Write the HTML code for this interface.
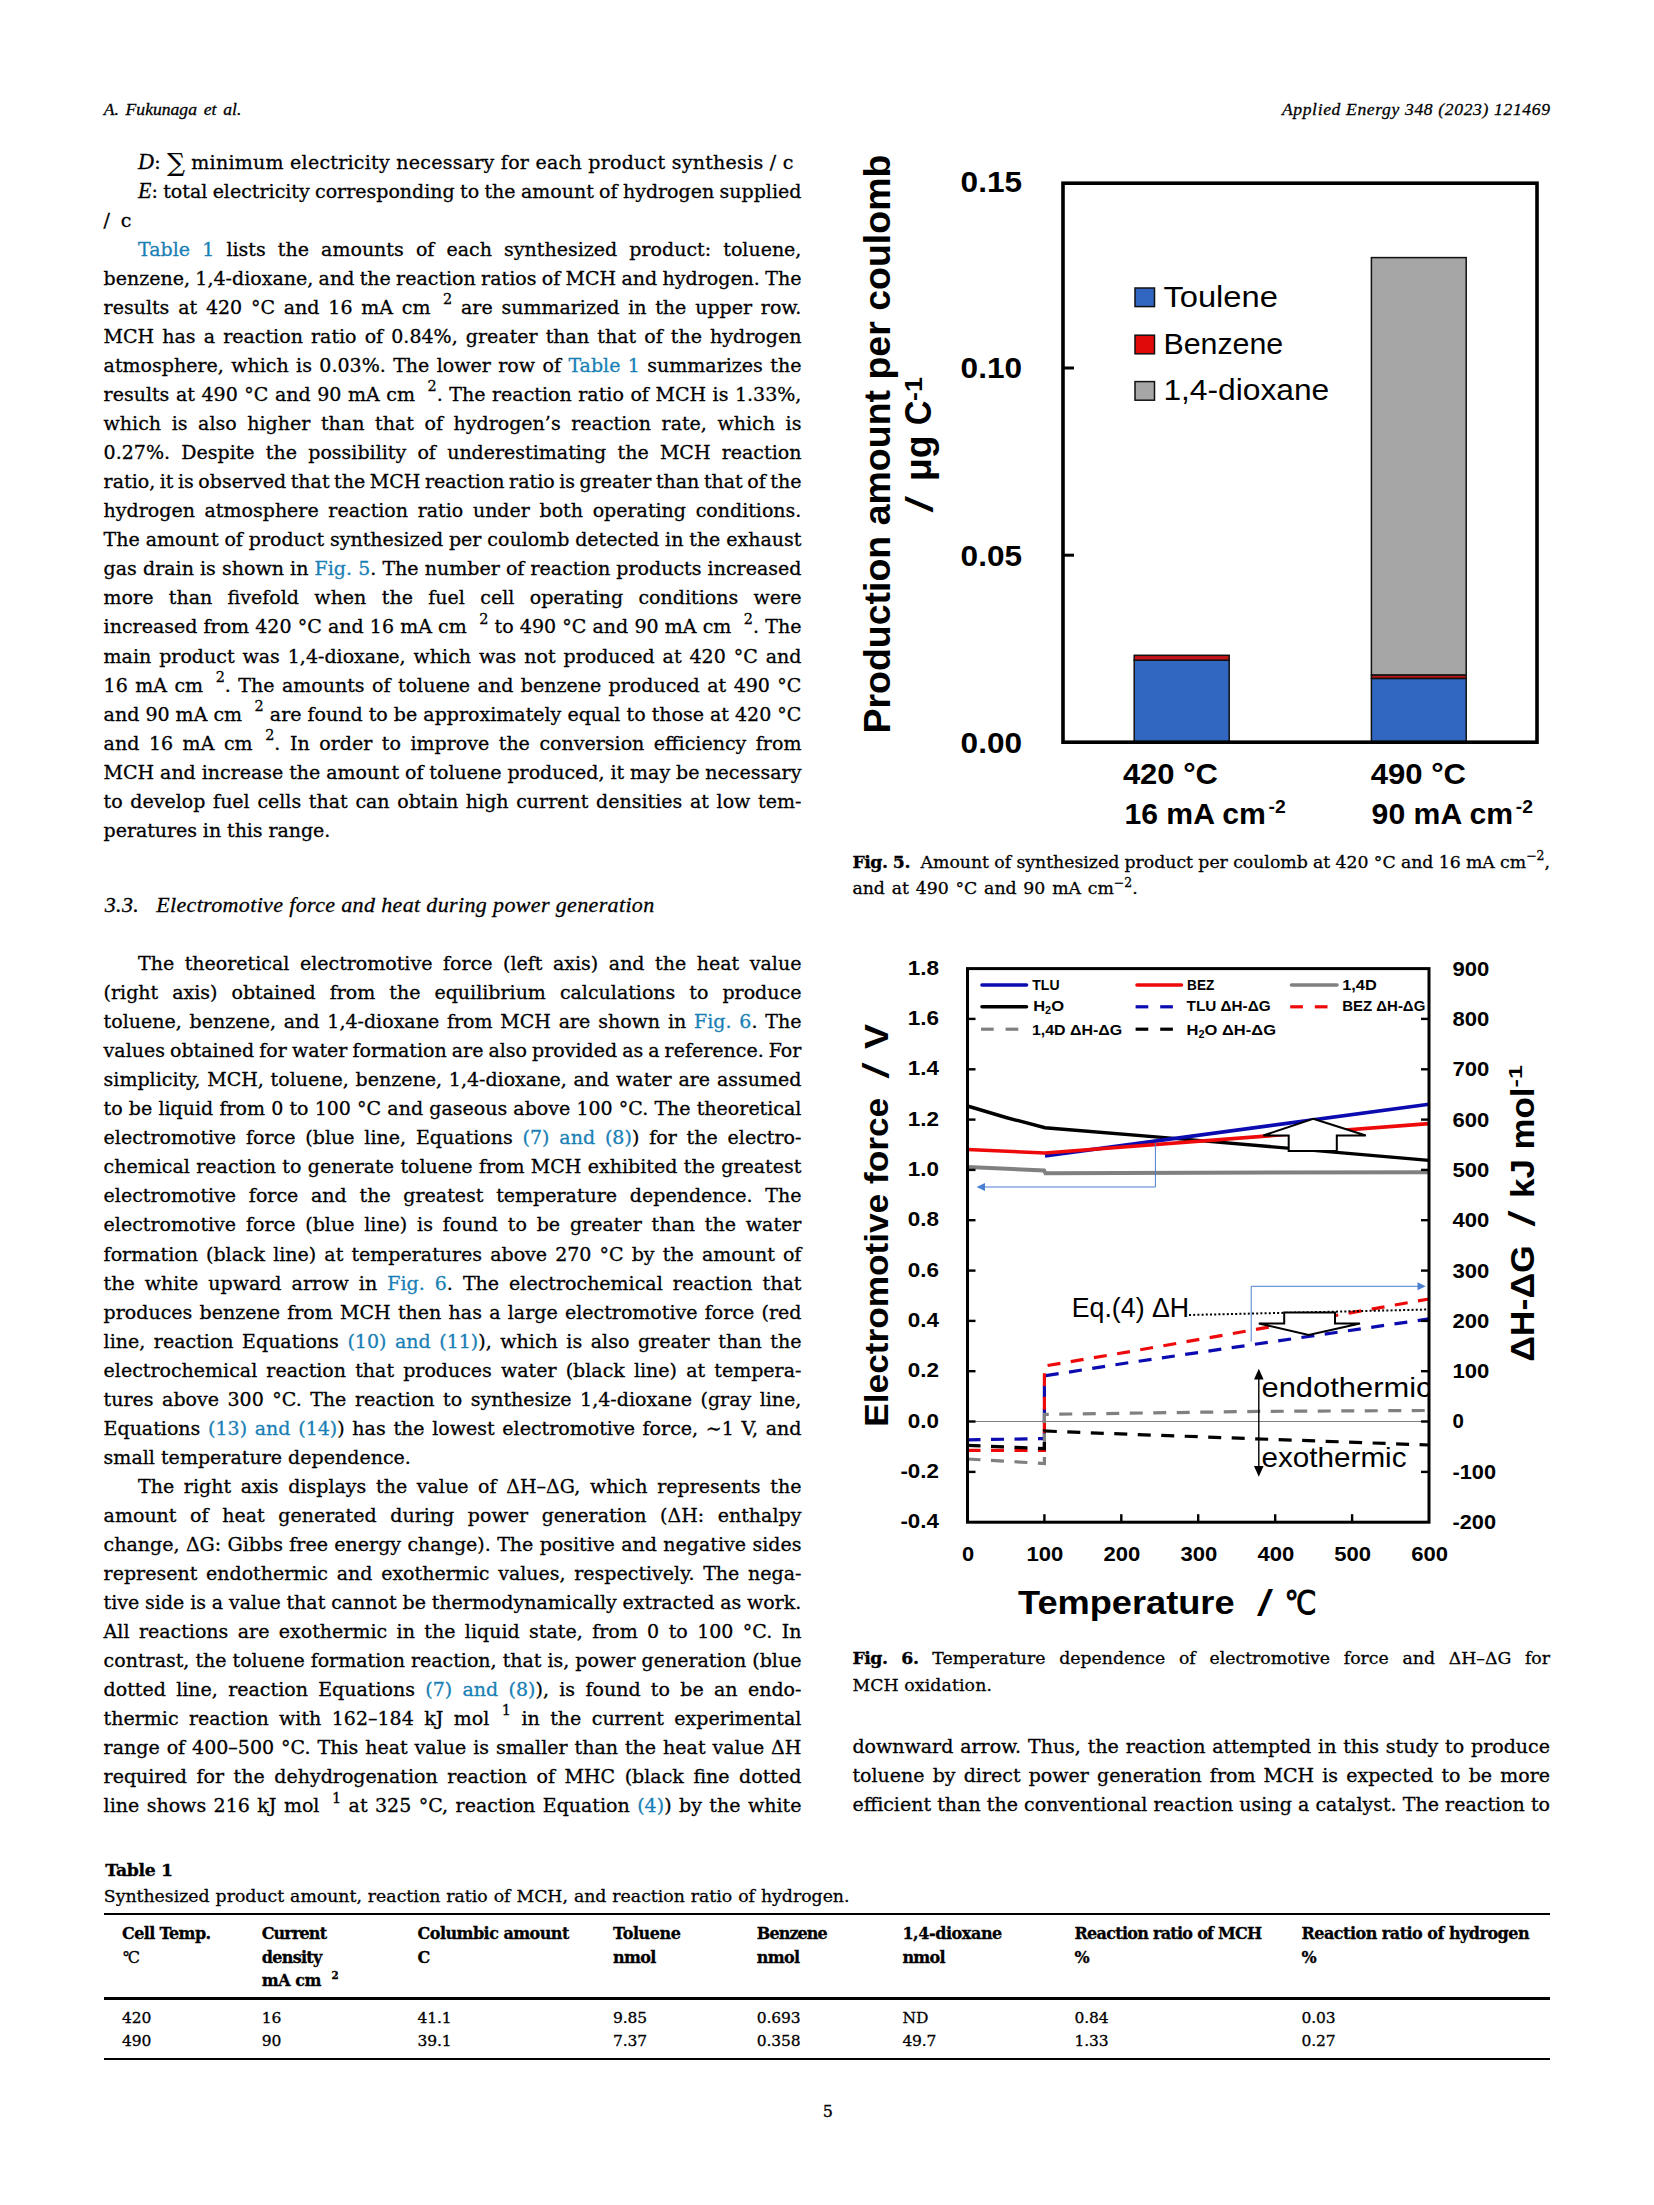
<!DOCTYPE html>
<html lang="en"><head><meta charset="utf-8"><title>Applied Energy 348 (2023) 121469</title>
<style>
html,body{margin:0;padding:0;background:#fff}
body{width:1654px;height:2205px;position:relative;overflow:hidden;color:#000;font-family:"DejaVu Serif","Liberation Serif",serif}
.l{position:absolute;white-space:pre;line-height:1;margin:0;font-kerning:normal;-webkit-text-stroke:.3px currentColor}
.l a{color:#1a7fb5;text-decoration:none}
.i,.l i{font-style:italic;font-family:"Liberation Serif","DejaVu Serif",serif}
.l i{font-size:1.16em;line-height:0}
.b{font-weight:bold}
.g{display:inline-block;width:.66em}
.s{display:inline-block;width:17px}
.sg{font-size:1.3em;line-height:0;position:relative;top:.08em}
sup{font-size:.76em;line-height:0;vertical-align:baseline;position:relative;top:-.68em}
sup.c{font-size:.72em;top:-.62em}
sup.t{font-size:.64em;top:-.7em}
.l b{letter-spacing:-.45px}
.r{position:absolute;left:104px;width:1446px;background:#000}
</style></head>
<body>
<svg width="1654" height="2205" viewBox="0 0 1654 2205" style="position:absolute;left:0;top:0" font-family="'Liberation Sans','DejaVu Sans',sans-serif">
<rect x="1134.2" y="660.2" width="95.0" height="82.0" fill="#3167c0" stroke="#111" stroke-width="1.5"/>
<rect x="1134.2" y="655.3" width="95.0" height="4.9" fill="#c4161a" stroke="#111" stroke-width="1.5"/>
<rect x="1371.4" y="678.4" width="94.8" height="63.8" fill="#3167c0" stroke="#111" stroke-width="1.5"/>
<rect x="1371.4" y="674.9" width="94.8" height="3.5" fill="#b8161a" stroke="#111" stroke-width="1.5"/>
<rect x="1371.4" y="257.6" width="94.8" height="417.3" fill="#a6a6a6" stroke="#111" stroke-width="1.5"/>
<rect x="1063.0" y="183.2" width="474.0" height="559.0" fill="none" stroke="#000" stroke-width="3.6"/>
<line x1="1063.0" y1="368.0" x2="1074.0" y2="368.0" stroke="#000" stroke-width="3"/>
<line x1="1063.0" y1="555.2" x2="1074.0" y2="555.2" stroke="#000" stroke-width="3"/>
<text x="960.6" y="192.4" font-size="30" font-weight="bold" textLength="61.4" lengthAdjust="spacingAndGlyphs" text-anchor="start" fill="#000" >0.15</text>
<text x="960.6" y="378.1" font-size="30" font-weight="bold" textLength="61.4" lengthAdjust="spacingAndGlyphs" text-anchor="start" fill="#000" >0.10</text>
<text x="960.6" y="565.6" font-size="30" font-weight="bold" textLength="61.4" lengthAdjust="spacingAndGlyphs" text-anchor="start" fill="#000" >0.05</text>
<text x="960.6" y="752.5" font-size="30" font-weight="bold" textLength="61.4" lengthAdjust="spacingAndGlyphs" text-anchor="start" fill="#000" >0.00</text>
<rect x="1135.0" y="288.0" width="19.5" height="18.6" fill="#3167c0" stroke="#111" stroke-width="1.5"/>
<text x="1163.4" y="306.7" font-size="30" textLength="114.5" lengthAdjust="spacingAndGlyphs" text-anchor="start" fill="#000" >Toulene</text>
<rect x="1135.0" y="335.2" width="19.5" height="18.6" fill="#e10a0a" stroke="#111" stroke-width="1.5"/>
<text x="1163.4" y="353.9" font-size="30" textLength="119.8" lengthAdjust="spacingAndGlyphs" text-anchor="start" fill="#000" >Benzene</text>
<rect x="1135.0" y="381.6" width="19.5" height="18.6" fill="#a6a6a6" stroke="#111" stroke-width="1.5"/>
<text x="1163.4" y="400.3" font-size="30" textLength="165.8" lengthAdjust="spacingAndGlyphs" text-anchor="start" fill="#000" >1,4-dioxane</text>
<text x="1122.9" y="784.0" font-size="30" font-weight="bold" textLength="95.0" lengthAdjust="spacingAndGlyphs" text-anchor="start" fill="#000" >420 °C</text>
<text x="1124.4" y="824.0" font-size="30" font-weight="bold" textLength="141.5" lengthAdjust="spacingAndGlyphs" text-anchor="start" fill="#000" >16 mA cm</text>
<text x="1268.6" y="813.0" font-size="19" font-weight="bold" textLength="17.2" lengthAdjust="spacingAndGlyphs" text-anchor="start" fill="#000" >-2</text>
<text x="1370.7" y="784.0" font-size="30" font-weight="bold" textLength="95.3" lengthAdjust="spacingAndGlyphs" text-anchor="start" fill="#000" >490 °C</text>
<text x="1371.6" y="824.0" font-size="30" font-weight="bold" textLength="141.5" lengthAdjust="spacingAndGlyphs" text-anchor="start" fill="#000" >90 mA cm</text>
<text x="1515.8" y="813.0" font-size="19" font-weight="bold" textLength="17.2" lengthAdjust="spacingAndGlyphs" text-anchor="start" fill="#000" >-2</text>
<text transform="translate(890.0,733.6) rotate(-90)" font-size="36" font-weight="bold" textLength="579.0" lengthAdjust="spacingAndGlyphs" >Production amount per coulomb</text>
<text transform="translate(932.5,512.6) rotate(-90)" font-size="38" textLength="16.5" lengthAdjust="spacingAndGlyphs" >/</text>
<text transform="translate(931.3,481.0) rotate(-90)" font-size="36" font-weight="bold" textLength="45.5" lengthAdjust="spacingAndGlyphs" >μg</text>
<text transform="translate(931.3,425.2) rotate(-90)" font-size="36" font-weight="bold" textLength="24.6" lengthAdjust="spacingAndGlyphs" >C</text>
<text transform="translate(921.6,401.0) rotate(-90)" font-size="24" font-weight="bold" textLength="23.8" lengthAdjust="spacingAndGlyphs" >-1</text>
<line x1="967.5" y1="1421.5" x2="1421" y2="1421.5" stroke="#7f7f7f" stroke-width="1.2"/>
<polyline points="967.5,1439.8 1044.4,1438.6 1044.4,1375.9 1130.0,1362.5 1429.0,1318.9" fill="none" stroke="#0b0bb0" stroke-width="3.2" stroke-dasharray="13 10.5" />
<polyline points="967.5,1450.4 1044.4,1450.4 1044.4,1366.0 1130.0,1351.6 1429.0,1299.0" fill="none" stroke="#ee0a0a" stroke-width="3.2" stroke-dasharray="13 10.5" />
<polyline points="967.5,1459.0 1044.4,1463.5 1044.4,1414.4 1258.0,1411.4 1429.0,1410.5" fill="none" stroke="#808080" stroke-width="3.2" stroke-dasharray="13 10.5" />
<polyline points="967.5,1445.3 1044.4,1448.6 1044.4,1431.0 1130.0,1434.3 1429.0,1445.0" fill="none" stroke="#000" stroke-width="3.2" stroke-dasharray="13 10.5" />
<polyline points="1189.0,1315.0 1429.0,1309.5" fill="none" stroke="#000" stroke-width="2.0" stroke-dasharray="2 2.2" />
<polyline points="967.5,1167.0 1044.0,1170.4 1045.5,1173.2 1429.0,1172.2" fill="none" stroke="#808080" stroke-width="4.0" />
<polyline points="967.5,1106.0 1006.0,1117.5 1045.0,1127.7 1177.0,1138.6 1429.0,1160.4" fill="none" stroke="#000" stroke-width="3.4" />
<polyline points="1045.0,1155.9 1429.0,1104.2" fill="none" stroke="#0b0bb0" stroke-width="3.6" />
<polyline points="967.5,1149.5 1045.0,1153.0 1429.0,1123.6" fill="none" stroke="#ee0a0a" stroke-width="3.6" />
<polygon points="1313.2,1118.7 1365.8,1135.5 1336.8,1135.5 1336.8,1151 1288.7,1151 1288.7,1135.5 1263.3,1135.5" fill="#fff" stroke="#000" stroke-width="2"/>
<polygon points="1284.2,1312.6 1335,1312.6 1335,1323.5 1360,1323.5 1308.7,1334.9 1258.8,1323.5 1284.2,1323.5" fill="#fff" stroke="#000" stroke-width="2"/>
<polyline points="1155.4,1143 1155.4,1187 984,1187" fill="none" stroke="#4a7fd0" stroke-width="1"/>
<polygon points="976.6,1187 985,1183 985,1191" fill="#4a7fd0"/>
<polyline points="1251.2,1341.6 1251.2,1286.3 1418,1286.3" fill="none" stroke="#4a7fd0" stroke-width="1"/>
<polygon points="1425.7,1286.3 1417.5,1282.3 1417.5,1290.3" fill="#4a7fd0"/>
<line x1="1258.8" y1="1376" x2="1258.8" y2="1469" stroke="#000" stroke-width="1.4"/>
<polygon points="1258.8,1368.8 1254,1379.5 1263.6,1379.5" fill="#000"/>
<polygon points="1258.8,1476.7 1254,1466 1263.6,1466" fill="#000"/>
<text x="1261.5" y="1396.9" font-size="28.5" textLength="170.0" lengthAdjust="spacingAndGlyphs" text-anchor="start" fill="#000" >endothermic</text>
<rect x="1429" y="1372" width="18" height="30" fill="#fff"/>
<text x="1261.5" y="1466.8" font-size="28.5" textLength="145.0" lengthAdjust="spacingAndGlyphs" text-anchor="start" fill="#000" >exothermic</text>
<text x="1071.7" y="1317.0" font-size="27.5" textLength="117.5" lengthAdjust="spacingAndGlyphs" text-anchor="start" fill="#000" >Eq.(4) ΔH</text>
<rect x="967.5" y="968.6" width="461.5" height="553.6" fill="none" stroke="#000" stroke-width="3"/>
<line x1="967.5" y1="1018.9" x2="975.5" y2="1018.9" stroke="#000" stroke-width="2.4"/>
<line x1="1429.0" y1="1018.9" x2="1421.0" y2="1018.9" stroke="#000" stroke-width="2.4"/>
<line x1="967.5" y1="1069.3" x2="975.5" y2="1069.3" stroke="#000" stroke-width="2.4"/>
<line x1="1429.0" y1="1069.3" x2="1421.0" y2="1069.3" stroke="#000" stroke-width="2.4"/>
<line x1="967.5" y1="1119.6" x2="975.5" y2="1119.6" stroke="#000" stroke-width="2.4"/>
<line x1="1429.0" y1="1119.6" x2="1421.0" y2="1119.6" stroke="#000" stroke-width="2.4"/>
<line x1="967.5" y1="1169.9" x2="975.5" y2="1169.9" stroke="#000" stroke-width="2.4"/>
<line x1="1429.0" y1="1169.9" x2="1421.0" y2="1169.9" stroke="#000" stroke-width="2.4"/>
<line x1="967.5" y1="1220.2" x2="975.5" y2="1220.2" stroke="#000" stroke-width="2.4"/>
<line x1="1429.0" y1="1220.2" x2="1421.0" y2="1220.2" stroke="#000" stroke-width="2.4"/>
<line x1="967.5" y1="1270.6" x2="975.5" y2="1270.6" stroke="#000" stroke-width="2.4"/>
<line x1="1429.0" y1="1270.6" x2="1421.0" y2="1270.6" stroke="#000" stroke-width="2.4"/>
<line x1="967.5" y1="1320.9" x2="975.5" y2="1320.9" stroke="#000" stroke-width="2.4"/>
<line x1="1429.0" y1="1320.9" x2="1421.0" y2="1320.9" stroke="#000" stroke-width="2.4"/>
<line x1="967.5" y1="1371.2" x2="975.5" y2="1371.2" stroke="#000" stroke-width="2.4"/>
<line x1="1429.0" y1="1371.2" x2="1421.0" y2="1371.2" stroke="#000" stroke-width="2.4"/>
<line x1="967.5" y1="1421.5" x2="975.5" y2="1421.5" stroke="#000" stroke-width="2.4"/>
<line x1="1429.0" y1="1421.5" x2="1421.0" y2="1421.5" stroke="#000" stroke-width="2.4"/>
<line x1="967.5" y1="1471.9" x2="975.5" y2="1471.9" stroke="#000" stroke-width="2.4"/>
<line x1="1429.0" y1="1471.9" x2="1421.0" y2="1471.9" stroke="#000" stroke-width="2.4"/>
<line x1="1044.4" y1="1522.2" x2="1044.4" y2="1514.2" stroke="#000" stroke-width="2.4"/>
<line x1="1121.3" y1="1522.2" x2="1121.3" y2="1514.2" stroke="#000" stroke-width="2.4"/>
<line x1="1198.2" y1="1522.2" x2="1198.2" y2="1514.2" stroke="#000" stroke-width="2.4"/>
<line x1="1275.2" y1="1522.2" x2="1275.2" y2="1514.2" stroke="#000" stroke-width="2.4"/>
<line x1="1352.1" y1="1522.2" x2="1352.1" y2="1514.2" stroke="#000" stroke-width="2.4"/>
<text x="907.7" y="974.7" font-size="19.5" font-weight="bold" textLength="31.2" lengthAdjust="spacingAndGlyphs" text-anchor="start" fill="#000" >1.8</text>
<text x="907.7" y="1025.0" font-size="19.5" font-weight="bold" textLength="31.2" lengthAdjust="spacingAndGlyphs" text-anchor="start" fill="#000" >1.6</text>
<text x="907.7" y="1075.4" font-size="19.5" font-weight="bold" textLength="31.2" lengthAdjust="spacingAndGlyphs" text-anchor="start" fill="#000" >1.4</text>
<text x="907.7" y="1125.7" font-size="19.5" font-weight="bold" textLength="31.2" lengthAdjust="spacingAndGlyphs" text-anchor="start" fill="#000" >1.2</text>
<text x="907.7" y="1176.0" font-size="19.5" font-weight="bold" textLength="31.2" lengthAdjust="spacingAndGlyphs" text-anchor="start" fill="#000" >1.0</text>
<text x="907.7" y="1226.3" font-size="19.5" font-weight="bold" textLength="31.2" lengthAdjust="spacingAndGlyphs" text-anchor="start" fill="#000" >0.8</text>
<text x="907.7" y="1276.7" font-size="19.5" font-weight="bold" textLength="31.2" lengthAdjust="spacingAndGlyphs" text-anchor="start" fill="#000" >0.6</text>
<text x="907.7" y="1327.0" font-size="19.5" font-weight="bold" textLength="31.2" lengthAdjust="spacingAndGlyphs" text-anchor="start" fill="#000" >0.4</text>
<text x="907.7" y="1377.3" font-size="19.5" font-weight="bold" textLength="31.2" lengthAdjust="spacingAndGlyphs" text-anchor="start" fill="#000" >0.2</text>
<text x="907.7" y="1427.6" font-size="19.5" font-weight="bold" textLength="31.2" lengthAdjust="spacingAndGlyphs" text-anchor="start" fill="#000" >0.0</text>
<text x="900.4" y="1478.0" font-size="19.5" font-weight="bold" textLength="38.5" lengthAdjust="spacingAndGlyphs" text-anchor="start" fill="#000" >-0.2</text>
<text x="900.4" y="1528.3" font-size="19.5" font-weight="bold" textLength="38.5" lengthAdjust="spacingAndGlyphs" text-anchor="start" fill="#000" >-0.4</text>
<text x="1452.5" y="975.5" font-size="19.5" font-weight="bold" textLength="36.8" lengthAdjust="spacingAndGlyphs" text-anchor="start" fill="#000" >900</text>
<text x="1452.5" y="1025.8" font-size="19.5" font-weight="bold" textLength="36.8" lengthAdjust="spacingAndGlyphs" text-anchor="start" fill="#000" >800</text>
<text x="1452.5" y="1076.2" font-size="19.5" font-weight="bold" textLength="36.8" lengthAdjust="spacingAndGlyphs" text-anchor="start" fill="#000" >700</text>
<text x="1452.5" y="1126.5" font-size="19.5" font-weight="bold" textLength="36.8" lengthAdjust="spacingAndGlyphs" text-anchor="start" fill="#000" >600</text>
<text x="1452.5" y="1176.8" font-size="19.5" font-weight="bold" textLength="36.8" lengthAdjust="spacingAndGlyphs" text-anchor="start" fill="#000" >500</text>
<text x="1452.5" y="1227.1" font-size="19.5" font-weight="bold" textLength="36.8" lengthAdjust="spacingAndGlyphs" text-anchor="start" fill="#000" >400</text>
<text x="1452.5" y="1277.5" font-size="19.5" font-weight="bold" textLength="36.8" lengthAdjust="spacingAndGlyphs" text-anchor="start" fill="#000" >300</text>
<text x="1452.5" y="1327.8" font-size="19.5" font-weight="bold" textLength="36.8" lengthAdjust="spacingAndGlyphs" text-anchor="start" fill="#000" >200</text>
<text x="1452.5" y="1378.1" font-size="19.5" font-weight="bold" textLength="36.8" lengthAdjust="spacingAndGlyphs" text-anchor="start" fill="#000" >100</text>
<text x="1452.5" y="1428.4" font-size="19.5" font-weight="bold" textLength="11.4" lengthAdjust="spacingAndGlyphs" text-anchor="start" fill="#000" >0</text>
<text x="1452.5" y="1478.8" font-size="19.5" font-weight="bold" textLength="43.5" lengthAdjust="spacingAndGlyphs" text-anchor="start" fill="#000" >-100</text>
<text x="1452.5" y="1529.1" font-size="19.5" font-weight="bold" textLength="43.5" lengthAdjust="spacingAndGlyphs" text-anchor="start" fill="#000" >-200</text>
<text x="968.1" y="1561.0" font-size="19.5" font-weight="bold" textLength="12.2" lengthAdjust="spacingAndGlyphs" text-anchor="middle" fill="#000" >0</text>
<text x="1045.0" y="1561.0" font-size="19.5" font-weight="bold" textLength="36.8" lengthAdjust="spacingAndGlyphs" text-anchor="middle" fill="#000" >100</text>
<text x="1121.9" y="1561.0" font-size="19.5" font-weight="bold" textLength="36.8" lengthAdjust="spacingAndGlyphs" text-anchor="middle" fill="#000" >200</text>
<text x="1198.8" y="1561.0" font-size="19.5" font-weight="bold" textLength="36.8" lengthAdjust="spacingAndGlyphs" text-anchor="middle" fill="#000" >300</text>
<text x="1275.8" y="1561.0" font-size="19.5" font-weight="bold" textLength="36.8" lengthAdjust="spacingAndGlyphs" text-anchor="middle" fill="#000" >400</text>
<text x="1352.7" y="1561.0" font-size="19.5" font-weight="bold" textLength="36.8" lengthAdjust="spacingAndGlyphs" text-anchor="middle" fill="#000" >500</text>
<text x="1429.6" y="1561.0" font-size="19.5" font-weight="bold" textLength="36.8" lengthAdjust="spacingAndGlyphs" text-anchor="middle" fill="#000" >600</text>
<text x="1018.0" y="1614.0" font-size="32.5" font-weight="bold" textLength="216.6" lengthAdjust="spacingAndGlyphs" text-anchor="start" fill="#000" >Temperature</text>
<text x="1257.0" y="1615.5" font-size="36" textLength="16.0" lengthAdjust="spacingAndGlyphs" text-anchor="start" fill="#000" >/</text>
<text x="1284.5" y="1614.0" font-size="32.5" textLength="32.0" lengthAdjust="spacingAndGlyphs" text-anchor="start" fill="#000" font-family="DejaVu Sans,sans-serif" stroke="#000" stroke-width="1">℃</text>
<text transform="translate(888.0,1426.7) rotate(-90)" font-size="34" font-weight="bold" textLength="328.8" lengthAdjust="spacingAndGlyphs" >Electromotive force</text>
<text transform="translate(889.0,1078.5) rotate(-90)" font-size="37" textLength="16.0" lengthAdjust="spacingAndGlyphs" >/</text>
<text transform="translate(888.0,1049.0) rotate(-90)" font-size="34" font-weight="bold" textLength="25.0" lengthAdjust="spacingAndGlyphs" >V</text>
<text transform="translate(1533.8,1361.8) rotate(-90)" font-size="34" font-weight="bold" textLength="116.5" lengthAdjust="spacingAndGlyphs" >ΔH-ΔG</text>
<text transform="translate(1534.8,1226.5) rotate(-90)" font-size="37" textLength="16.0" lengthAdjust="spacingAndGlyphs" >/</text>
<text transform="translate(1533.8,1198.0) rotate(-90)" font-size="34" font-weight="bold" textLength="110.5" lengthAdjust="spacingAndGlyphs" >kJ mol</text>
<text transform="translate(1521.5,1087.5) rotate(-90)" font-size="17.5" font-weight="bold" textLength="22.5" lengthAdjust="spacingAndGlyphs" >-1</text>
<line x1="982" y1="985.0" x2="1026.5" y2="985.0" stroke="#0b0bb0" stroke-width="3.6" stroke-linecap="round"/>
<text x="1032.3" y="989.9" font-size="15.2" font-weight="bold" textLength="27.2" lengthAdjust="spacingAndGlyphs" text-anchor="start" fill="#000" >TLU</text>
<line x1="982" y1="1006.8" x2="1026.5" y2="1006.8" stroke="#000" stroke-width="3.6" stroke-linecap="round"/>
<text x="1033.2" y="1010.6" font-size="15.2" font-weight="bold" textLength="30.8" lengthAdjust="spacingAndGlyphs" text-anchor="start" fill="#000" >H<tspan font-size="10" dy="3.5">2</tspan><tspan dy="-3.5">O</tspan></text>
<line x1="981" y1="1029.2" x2="993.7" y2="1029.2" stroke="#808080" stroke-width="3.2"/>
<line x1="1005.6" y1="1029.2" x2="1018.3" y2="1029.2" stroke="#808080" stroke-width="3.2"/>
<text x="1031.9" y="1034.7" font-size="15.2" font-weight="bold" textLength="90.2" lengthAdjust="spacingAndGlyphs" text-anchor="start" fill="#000" >1,4D ΔH-ΔG</text>
<line x1="1137" y1="985.0" x2="1181.5" y2="985.0" stroke="#ee0a0a" stroke-width="3.6" stroke-linecap="round"/>
<text x="1187.1" y="989.9" font-size="15.2" font-weight="bold" textLength="27.2" lengthAdjust="spacingAndGlyphs" text-anchor="start" fill="#000" >BEZ</text>
<line x1="1135.6" y1="1006.8" x2="1148.3" y2="1006.8" stroke="#0b0bb0" stroke-width="3.2"/>
<line x1="1160.1999999999998" y1="1006.8" x2="1172.8999999999999" y2="1006.8" stroke="#0b0bb0" stroke-width="3.2"/>
<text x="1186.6" y="1010.6" font-size="15.2" font-weight="bold" textLength="84.0" lengthAdjust="spacingAndGlyphs" text-anchor="start" fill="#000" >TLU ΔH-ΔG</text>
<line x1="1135.6" y1="1029.2" x2="1148.3" y2="1029.2" stroke="#000" stroke-width="3.2"/>
<line x1="1160.1999999999998" y1="1029.2" x2="1172.8999999999999" y2="1029.2" stroke="#000" stroke-width="3.2"/>
<text x="1186.6" y="1034.7" font-size="15.2" font-weight="bold" textLength="89.4" lengthAdjust="spacingAndGlyphs" text-anchor="start" fill="#000" >H<tspan font-size="10" dy="3.5">2</tspan><tspan dy="-3.5">O</tspan> ΔH-ΔG</text>
<line x1="1291.5" y1="985.0" x2="1337" y2="985.0" stroke="#808080" stroke-width="3.6" stroke-linecap="round"/>
<text x="1342.2" y="989.9" font-size="15.2" font-weight="bold" textLength="34.5" lengthAdjust="spacingAndGlyphs" text-anchor="start" fill="#000" >1,4D</text>
<line x1="1290.2" y1="1006.8" x2="1302.9" y2="1006.8" stroke="#ee0a0a" stroke-width="3.2"/>
<line x1="1314.8" y1="1006.8" x2="1327.5" y2="1006.8" stroke="#ee0a0a" stroke-width="3.2"/>
<text x="1342.2" y="1010.6" font-size="15.2" font-weight="bold" textLength="83.1" lengthAdjust="spacingAndGlyphs" text-anchor="start" fill="#000" >BEZ ΔH-ΔG</text>
</svg>
<div class="l i" style="left:103.70px;top:101.00px;font-size:17.6px;word-spacing:2.377px">A. Fukunaga et al.</div>
<div class="l i" style="left:1281.90px;top:101.00px;font-size:17.6px;letter-spacing:0.630px">Applied Energy 348 (2023) 121469</div>
<div class="l" style="left:138.00px;top:152.65px;font-size:19.0px;letter-spacing:0.255px"><i>D</i>: <span class="sg">∑</span> minimum electricity necessary for each product synthesis / c</div>
<div class="l" style="left:138.00px;top:181.70px;font-size:19.0px;word-spacing:-0.719px"><i>E</i>: total electricity corresponding to the amount of hydrogen supplied</div>
<div class="l" style="left:103.60px;top:210.75px;font-size:19.0px;word-spacing:4.806px">/ c</div>
<div class="l" style="left:138.00px;top:239.80px;font-size:19.0px;word-spacing:6.109px"><a>Table 1</a> lists the amounts of each synthesized product: toluene,</div>
<div class="l" style="left:103.60px;top:268.85px;font-size:19.0px;word-spacing:-0.698px">benzene, 1,4-dioxane, and the reaction ratios of MCH and hydrogen. The</div>
<div class="l" style="left:103.60px;top:297.90px;font-size:19.0px;word-spacing:2.749px">results at 420 °C and 16 mA cm<span class="g"></span><sup>2</sup> are summarized in the upper row.</div>
<div class="l" style="left:103.60px;top:326.95px;font-size:19.0px;word-spacing:2.089px">MCH has a reaction ratio of 0.84%, greater than that of the hydrogen</div>
<div class="l" style="left:103.60px;top:356.00px;font-size:19.0px;word-spacing:1.385px">atmosphere, which is 0.03%. The lower row of <a>Table 1</a> summarizes the</div>
<div class="l" style="left:103.60px;top:385.05px;font-size:19.0px;word-spacing:0.534px">results at 490 °C and 90 mA cm<span class="g"></span><sup>2</sup>. The reaction ratio of MCH is 1.33%,</div>
<div class="l" style="left:103.60px;top:414.10px;font-size:19.0px;word-spacing:4.574px">which is also higher than that of hydrogen’s reaction rate, which is</div>
<div class="l" style="left:103.60px;top:443.15px;font-size:19.0px;word-spacing:5.215px">0.27%. Despite the possibility of underestimating the MCH reaction</div>
<div class="l" style="left:103.60px;top:472.20px;font-size:19.0px;word-spacing:-1.495px">ratio, it is observed that the MCH reaction ratio is greater than that of the</div>
<div class="l" style="left:103.60px;top:501.25px;font-size:19.0px;word-spacing:3.614px">hydrogen atmosphere reaction ratio under both operating conditions.</div>
<div class="l" style="left:103.60px;top:530.30px;font-size:19.0px;word-spacing:-0.161px">The amount of product synthesized per coulomb detected in the exhaust</div>
<div class="l" style="left:103.60px;top:559.35px;font-size:19.0px;word-spacing:0.112px">gas drain is shown in <a>Fig. 5</a>. The number of reaction products increased</div>
<div class="l" style="left:103.60px;top:588.40px;font-size:19.0px;word-spacing:9.360px">more than fivefold when the fuel cell operating conditions were</div>
<div class="l" style="left:103.60px;top:617.45px;font-size:19.0px;word-spacing:0.130px">increased from 420 °C and 16 mA cm<span class="g"></span><sup>2</sup> to 490 °C and 90 mA cm<span class="g"></span><sup>2</sup>. The</div>
<div class="l" style="left:103.60px;top:646.50px;font-size:19.0px;word-spacing:1.899px">main product was 1,4-dioxane, which was not produced at 420 °C and</div>
<div class="l" style="left:103.60px;top:675.55px;font-size:19.0px;word-spacing:1.425px">16 mA cm<span class="g"></span><sup>2</sup>. The amounts of toluene and benzene produced at 490 °C</div>
<div class="l" style="left:103.60px;top:704.60px;font-size:19.0px;word-spacing:0.020px">and 90 mA cm<span class="g"></span><sup>2</sup> are found to be approximately equal to those at 420 °C</div>
<div class="l" style="left:103.60px;top:733.65px;font-size:19.0px;word-spacing:3.523px">and 16 mA cm<span class="g"></span><sup>2</sup>. In order to improve the conversion efficiency from</div>
<div class="l" style="left:103.60px;top:762.70px;font-size:19.0px;word-spacing:-0.138px">MCH and increase the amount of toluene produced, it may be necessary</div>
<div class="l" style="left:103.60px;top:791.75px;font-size:19.0px;word-spacing:1.647px">to develop fuel cells that can obtain high current densities at low tem-</div>
<div class="l" style="left:103.60px;top:820.80px;font-size:19.0px;letter-spacing:-0.054px">peratures in this range.</div>
<div class="l i" style="left:104.70px;top:893.70px;font-size:22.0px;letter-spacing:0.358px">3.3.<span class="s"></span>Electromotive force and heat during power generation</div>
<div class="l" style="left:138.00px;top:954.00px;font-size:19.0px;word-spacing:4.524px">The theoretical electromotive force (left axis) and the heat value</div>
<div class="l" style="left:103.60px;top:983.05px;font-size:19.0px;word-spacing:7.957px">(right axis) obtained from the equilibrium calculations to produce</div>
<div class="l" style="left:103.60px;top:1012.10px;font-size:19.0px;word-spacing:1.767px">toluene, benzene, and 1,4-dioxane from MCH are shown in <a>Fig. 6</a>. The</div>
<div class="l" style="left:103.60px;top:1041.15px;font-size:19.0px;word-spacing:-1.015px">values obtained for water formation are also provided as a reference. For</div>
<div class="l" style="left:103.60px;top:1070.20px;font-size:19.0px;word-spacing:0.780px">simplicity, MCH, toluene, benzene, 1,4-dioxane, and water are assumed</div>
<div class="l" style="left:103.60px;top:1099.25px;font-size:19.0px;word-spacing:0.137px">to be liquid from 0 to 100 °C and gaseous above 100 °C. The theoretical</div>
<div class="l" style="left:103.60px;top:1128.30px;font-size:19.0px;word-spacing:3.849px">electromotive force (blue line, Equations <a>(7) and (8)</a>) for the electro-</div>
<div class="l" style="left:103.60px;top:1157.35px;font-size:19.0px;word-spacing:0.360px">chemical reaction to generate toluene from MCH exhibited the greatest</div>
<div class="l" style="left:103.60px;top:1186.40px;font-size:19.0px;word-spacing:6.708px">electromotive force and the greatest temperature dependence. The</div>
<div class="l" style="left:103.60px;top:1215.45px;font-size:19.0px;word-spacing:3.811px">electromotive force (blue line) is found to be greater than the water</div>
<div class="l" style="left:103.60px;top:1244.50px;font-size:19.0px;word-spacing:2.061px">formation (black line) at temperatures above 270 °C by the amount of</div>
<div class="l" style="left:103.60px;top:1273.55px;font-size:19.0px;word-spacing:4.019px">the white upward arrow in <a>Fig. 6</a>. The electrochemical reaction that</div>
<div class="l" style="left:103.60px;top:1302.60px;font-size:19.0px;word-spacing:1.242px">produces benzene from MCH then has a large electromotive force (red</div>
<div class="l" style="left:103.60px;top:1331.65px;font-size:19.0px;word-spacing:2.533px">line, reaction Equations <a>(10) and (11)</a>), which is also greater than the</div>
<div class="l" style="left:103.60px;top:1360.70px;font-size:19.0px;word-spacing:3.098px">electrochemical reaction that produces water (black line) at tempera-</div>
<div class="l" style="left:103.60px;top:1389.75px;font-size:19.0px;word-spacing:2.482px">tures above 300 °C. The reaction to synthesize 1,4-dioxane (gray line,</div>
<div class="l" style="left:103.60px;top:1418.80px;font-size:19.0px;word-spacing:1.679px">Equations <a>(13) and (14)</a>) has the lowest electromotive force, ∼1 V, and</div>
<div class="l" style="left:103.60px;top:1447.85px;font-size:19.0px;letter-spacing:0.015px">small temperature dependence.</div>
<div class="l" style="left:138.00px;top:1476.90px;font-size:19.0px;word-spacing:3.648px">The right axis displays the value of ΔH–ΔG, which represents the</div>
<div class="l" style="left:103.60px;top:1505.95px;font-size:19.0px;word-spacing:7.592px">amount of heat generated during power generation (ΔH: enthalpy</div>
<div class="l" style="left:103.60px;top:1535.00px;font-size:19.0px;word-spacing:0.363px">change, ΔG: Gibbs free energy change). The positive and negative sides</div>
<div class="l" style="left:103.60px;top:1564.05px;font-size:19.0px;word-spacing:2.666px">represent endothermic and exothermic values, respectively. The nega-</div>
<div class="l" style="left:103.60px;top:1593.10px;font-size:19.0px;word-spacing:-0.206px">tive side is a value that cannot be thermodynamically extracted as work.</div>
<div class="l" style="left:103.60px;top:1622.15px;font-size:19.0px;word-spacing:3.384px">All reactions are exothermic in the liquid state, from 0 to 100 °C. In</div>
<div class="l" style="left:103.60px;top:1651.20px;font-size:19.0px;word-spacing:-0.033px">contrast, the toluene formation reaction, that is, power generation (blue</div>
<div class="l" style="left:103.60px;top:1680.25px;font-size:19.0px;word-spacing:4.288px">dotted line, reaction Equations <a>(7) and (8)</a>), is found to be an endo-</div>
<div class="l" style="left:103.60px;top:1709.30px;font-size:19.0px;word-spacing:4.394px">thermic reaction with 162–184 kJ mol<span class="g"></span><sup>1</sup> in the current experimental</div>
<div class="l" style="left:103.60px;top:1738.35px;font-size:19.0px;word-spacing:0.940px">range of 400–500 °C. This heat value is smaller than the heat value ΔH</div>
<div class="l" style="left:103.60px;top:1767.40px;font-size:19.0px;word-spacing:3.530px">required for the dehydrogenation reaction of MHC (black fine dotted</div>
<div class="l" style="left:103.60px;top:1796.45px;font-size:19.0px;word-spacing:1.419px">line shows 216 kJ mol<span class="g"></span><sup>1</sup> at 325 °C, reaction Equation <a>(4)</a>) by the white</div>
<div class="l" style="left:852.40px;top:1737.30px;font-size:19.0px;word-spacing:0.791px">downward arrow. Thus, the reaction attempted in this study to produce</div>
<div class="l" style="left:852.40px;top:1766.35px;font-size:19.0px;word-spacing:2.106px">toluene by direct power generation from MCH is expected to be more</div>
<div class="l" style="left:852.40px;top:1795.40px;font-size:19.0px;word-spacing:0.112px">efficient than the conventional reaction using a catalyst. The reaction to</div>
<div class="l" style="left:852.40px;top:854.00px;font-size:17.3px;word-spacing:-0.221px"><b>Fig. 5.</b>&nbsp; Amount of synthesized product per coulomb at 420 °C and 16 mA cm<sup class="c">−2</sup>,</div>
<div class="l" style="left:852.40px;top:880.30px;font-size:17.3px;word-spacing:1.284px">and at 490 °C and 90 mA cm<sup class="c">−2</sup>.</div>
<div class="l" style="left:852.40px;top:1649.50px;font-size:17.3px;word-spacing:8.249px"><b>Fig. 6.</b> Temperature dependence of electromotive force and ΔH–ΔG for</div>
<div class="l" style="left:852.40px;top:1676.70px;font-size:17.3px;letter-spacing:0.112px">MCH oxidation.</div>
<div class="l b" style="left:105.20px;top:1861.60px;font-size:17.3px;letter-spacing:-0.385px">Table 1</div>
<div class="l" style="left:103.80px;top:1887.60px;font-size:17.3px;word-spacing:0.470px">Synthesized product amount, reaction ratio of MCH, and reaction ratio of hydrogen.</div>
<div class="l" style="left:822.70px;top:2103.60px;font-size:16.0px">5</div>
<div class="l b" style="left:122.10px;top:1926.00px;font-size:16.0px;letter-spacing:-0.628px">Cell Temp.</div>
<div class="l" style="left:122.10px;top:1949.60px;font-size:16.0px;letter-spacing:-2.375px">°C</div>
<div class="l b" style="left:261.70px;top:1926.00px;font-size:16.0px;letter-spacing:-0.848px">Current</div>
<div class="l b" style="left:261.70px;top:1949.60px;font-size:16.0px;letter-spacing:-0.683px">density</div>
<div class="l b" style="left:261.70px;top:1973.40px;font-size:16.0px;letter-spacing:-0.461px">mA cm<span class="g"></span><sup class="t">2</sup></div>
<div class="l b" style="left:417.60px;top:1926.00px;font-size:16.0px;letter-spacing:-0.537px">Columbic amount</div>
<div class="l b" style="left:417.60px;top:1949.60px;font-size:16.0px;letter-spacing:-0.234px">C</div>
<div class="l b" style="left:613.00px;top:1926.00px;font-size:16.0px;letter-spacing:-0.422px">Toluene</div>
<div class="l b" style="left:613.00px;top:1949.60px;font-size:16.0px;letter-spacing:-0.703px">nmol</div>
<div class="l b" style="left:756.80px;top:1926.00px;font-size:16.0px;letter-spacing:-0.917px">Benzene</div>
<div class="l b" style="left:756.80px;top:1949.60px;font-size:16.0px;letter-spacing:-0.703px">nmol</div>
<div class="l b" style="left:902.40px;top:1926.00px;font-size:16.0px;letter-spacing:-0.422px">1,4-dioxane</div>
<div class="l b" style="left:902.40px;top:1949.60px;font-size:16.0px;letter-spacing:-0.703px">nmol</div>
<div class="l b" style="left:1074.50px;top:1926.00px;font-size:16.0px;letter-spacing:-0.720px">Reaction ratio of MCH</div>
<div class="l b" style="left:1074.50px;top:1949.60px;font-size:16.0px;letter-spacing:1.297px">%</div>
<div class="l b" style="left:1301.50px;top:1926.00px;font-size:16.0px;letter-spacing:-0.507px">Reaction ratio of hydrogen</div>
<div class="l b" style="left:1301.50px;top:1949.60px;font-size:16.0px;letter-spacing:1.297px">%</div>
<div class="l" style="left:122.10px;top:2010.90px;font-size:15.5px;letter-spacing:-0.115px">420</div>
<div class="l" style="left:261.70px;top:2010.90px;font-size:15.5px;letter-spacing:-0.117px">16</div>
<div class="l" style="left:417.60px;top:2010.90px;font-size:15.5px;letter-spacing:-0.166px">41.1</div>
<div class="l" style="left:613.00px;top:2010.90px;font-size:15.5px;letter-spacing:-0.166px">9.85</div>
<div class="l" style="left:756.80px;top:2010.90px;font-size:15.5px;letter-spacing:-0.155px">0.693</div>
<div class="l" style="left:902.40px;top:2010.90px;font-size:15.5px">ND</div>
<div class="l" style="left:1074.50px;top:2010.90px;font-size:15.5px;letter-spacing:-0.166px">0.84</div>
<div class="l" style="left:1301.50px;top:2010.90px;font-size:15.5px;letter-spacing:-0.166px">0.03</div>
<div class="l" style="left:122.10px;top:2034.40px;font-size:15.5px;letter-spacing:-0.115px">490</div>
<div class="l" style="left:261.70px;top:2034.40px;font-size:15.5px;letter-spacing:-0.117px">90</div>
<div class="l" style="left:417.60px;top:2034.40px;font-size:15.5px;letter-spacing:-0.166px">39.1</div>
<div class="l" style="left:613.00px;top:2034.40px;font-size:15.5px;letter-spacing:-0.166px">7.37</div>
<div class="l" style="left:756.80px;top:2034.40px;font-size:15.5px;letter-spacing:-0.155px">0.358</div>
<div class="l" style="left:902.40px;top:2034.40px;font-size:15.5px;letter-spacing:-0.166px">49.7</div>
<div class="l" style="left:1074.50px;top:2034.40px;font-size:15.5px;letter-spacing:-0.166px">1.33</div>
<div class="l" style="left:1301.50px;top:2034.40px;font-size:15.5px;letter-spacing:-0.166px">0.27</div>
<div class="r" style="top:1913.0px;height:2.2px"></div>
<div class="r" style="top:1997.1px;height:3.2px"></div>
<div class="r" style="top:2057.6px;height:2.2px"></div>
</body></html>
